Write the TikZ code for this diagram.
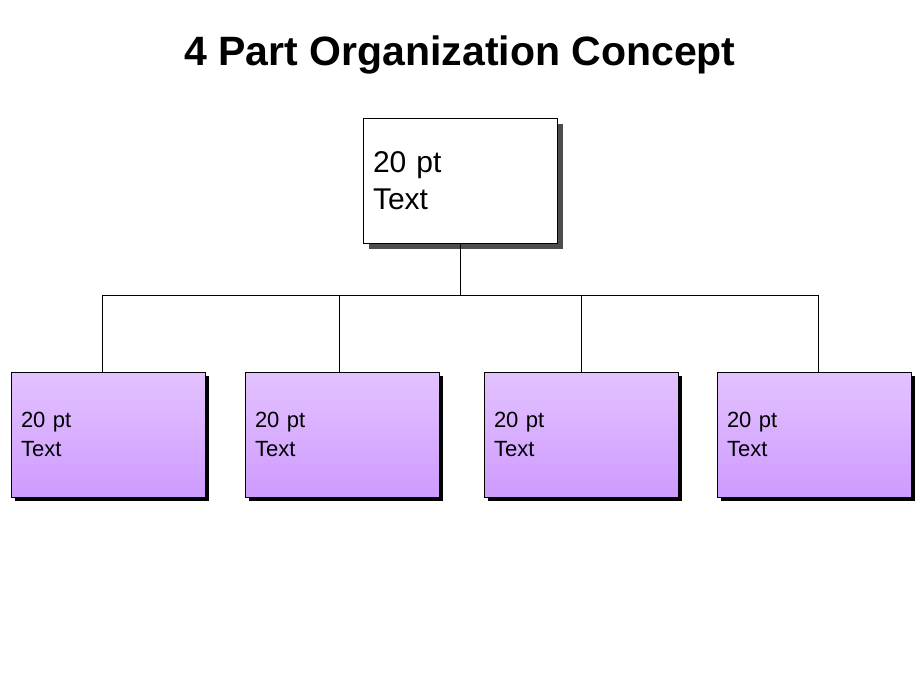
\documentclass[tikz,border=0pt]{standalone}
\usepackage{fontspec}
\setmainfont{Liberation Sans}
\usetikzlibrary{shadows}
\definecolor{lilactop}{HTML}{E3C2FF}
\definecolor{lilacbot}{HTML}{CE9BFF}
\definecolor{shadegray}{HTML}{4D4D4D}
\tikzset{
  headbox/.style={draw, fill=white, line width=0.7pt, minimum height=125pt,
    text width=174pt, inner xsep=10pt, align=left,
    font=\fontsize{30}{37}\selectfont,
    drop shadow={shadow xshift=6pt, shadow yshift=-6pt, fill=shadegray, opacity=1}},
  partbox/.style={draw, top color=lilactop, bottom color=lilacbot, line width=0.7pt,
    minimum height=125pt, text width=174pt, inner xsep=10pt, align=left,
    font=\fontsize{22}{29}\selectfont,
    drop shadow={shadow xshift=4pt, shadow yshift=-4pt, fill=black, opacity=1}},
  link/.style={line width=0.7pt}
}

\begin{document}
\begin{tikzpicture}[x=1pt,y=-1pt]
  \useasboundingbox (0,0) rectangle (920,690);
  \node[anchor=base, font=\fontsize{41}{48}\selectfont\bfseries] (title) at (460,66) {4 Part Organization Concept};
  \node[headbox] (head) at (460,180.5) {20 pt\\Text};
  \node[partbox] (p1) at (108,434.5) {20 pt\\Text};
  \node[partbox] (p2) at (342,434.5) {20 pt\\Text};
  \node[partbox] (p3) at (581,434.5) {20 pt\\Text};
  \node[partbox] (p4) at (814,434.5) {20 pt\\Text};
  \coordinate (bus) at (460,295);
  \coordinate (j1) at (102,295);
  \coordinate (j2) at (339,295);
  \coordinate (j3) at (581,295);
  \coordinate (j4) at (818,295);
  % tree lines
  \draw[link] (head.south) -- (bus);
  \draw[link] (j1) -- (j4);
  \foreach \i in {1,...,4}
    \draw[link] (j\i) -- (j\i |- p\i.north);
\end{tikzpicture}
\end{document}
